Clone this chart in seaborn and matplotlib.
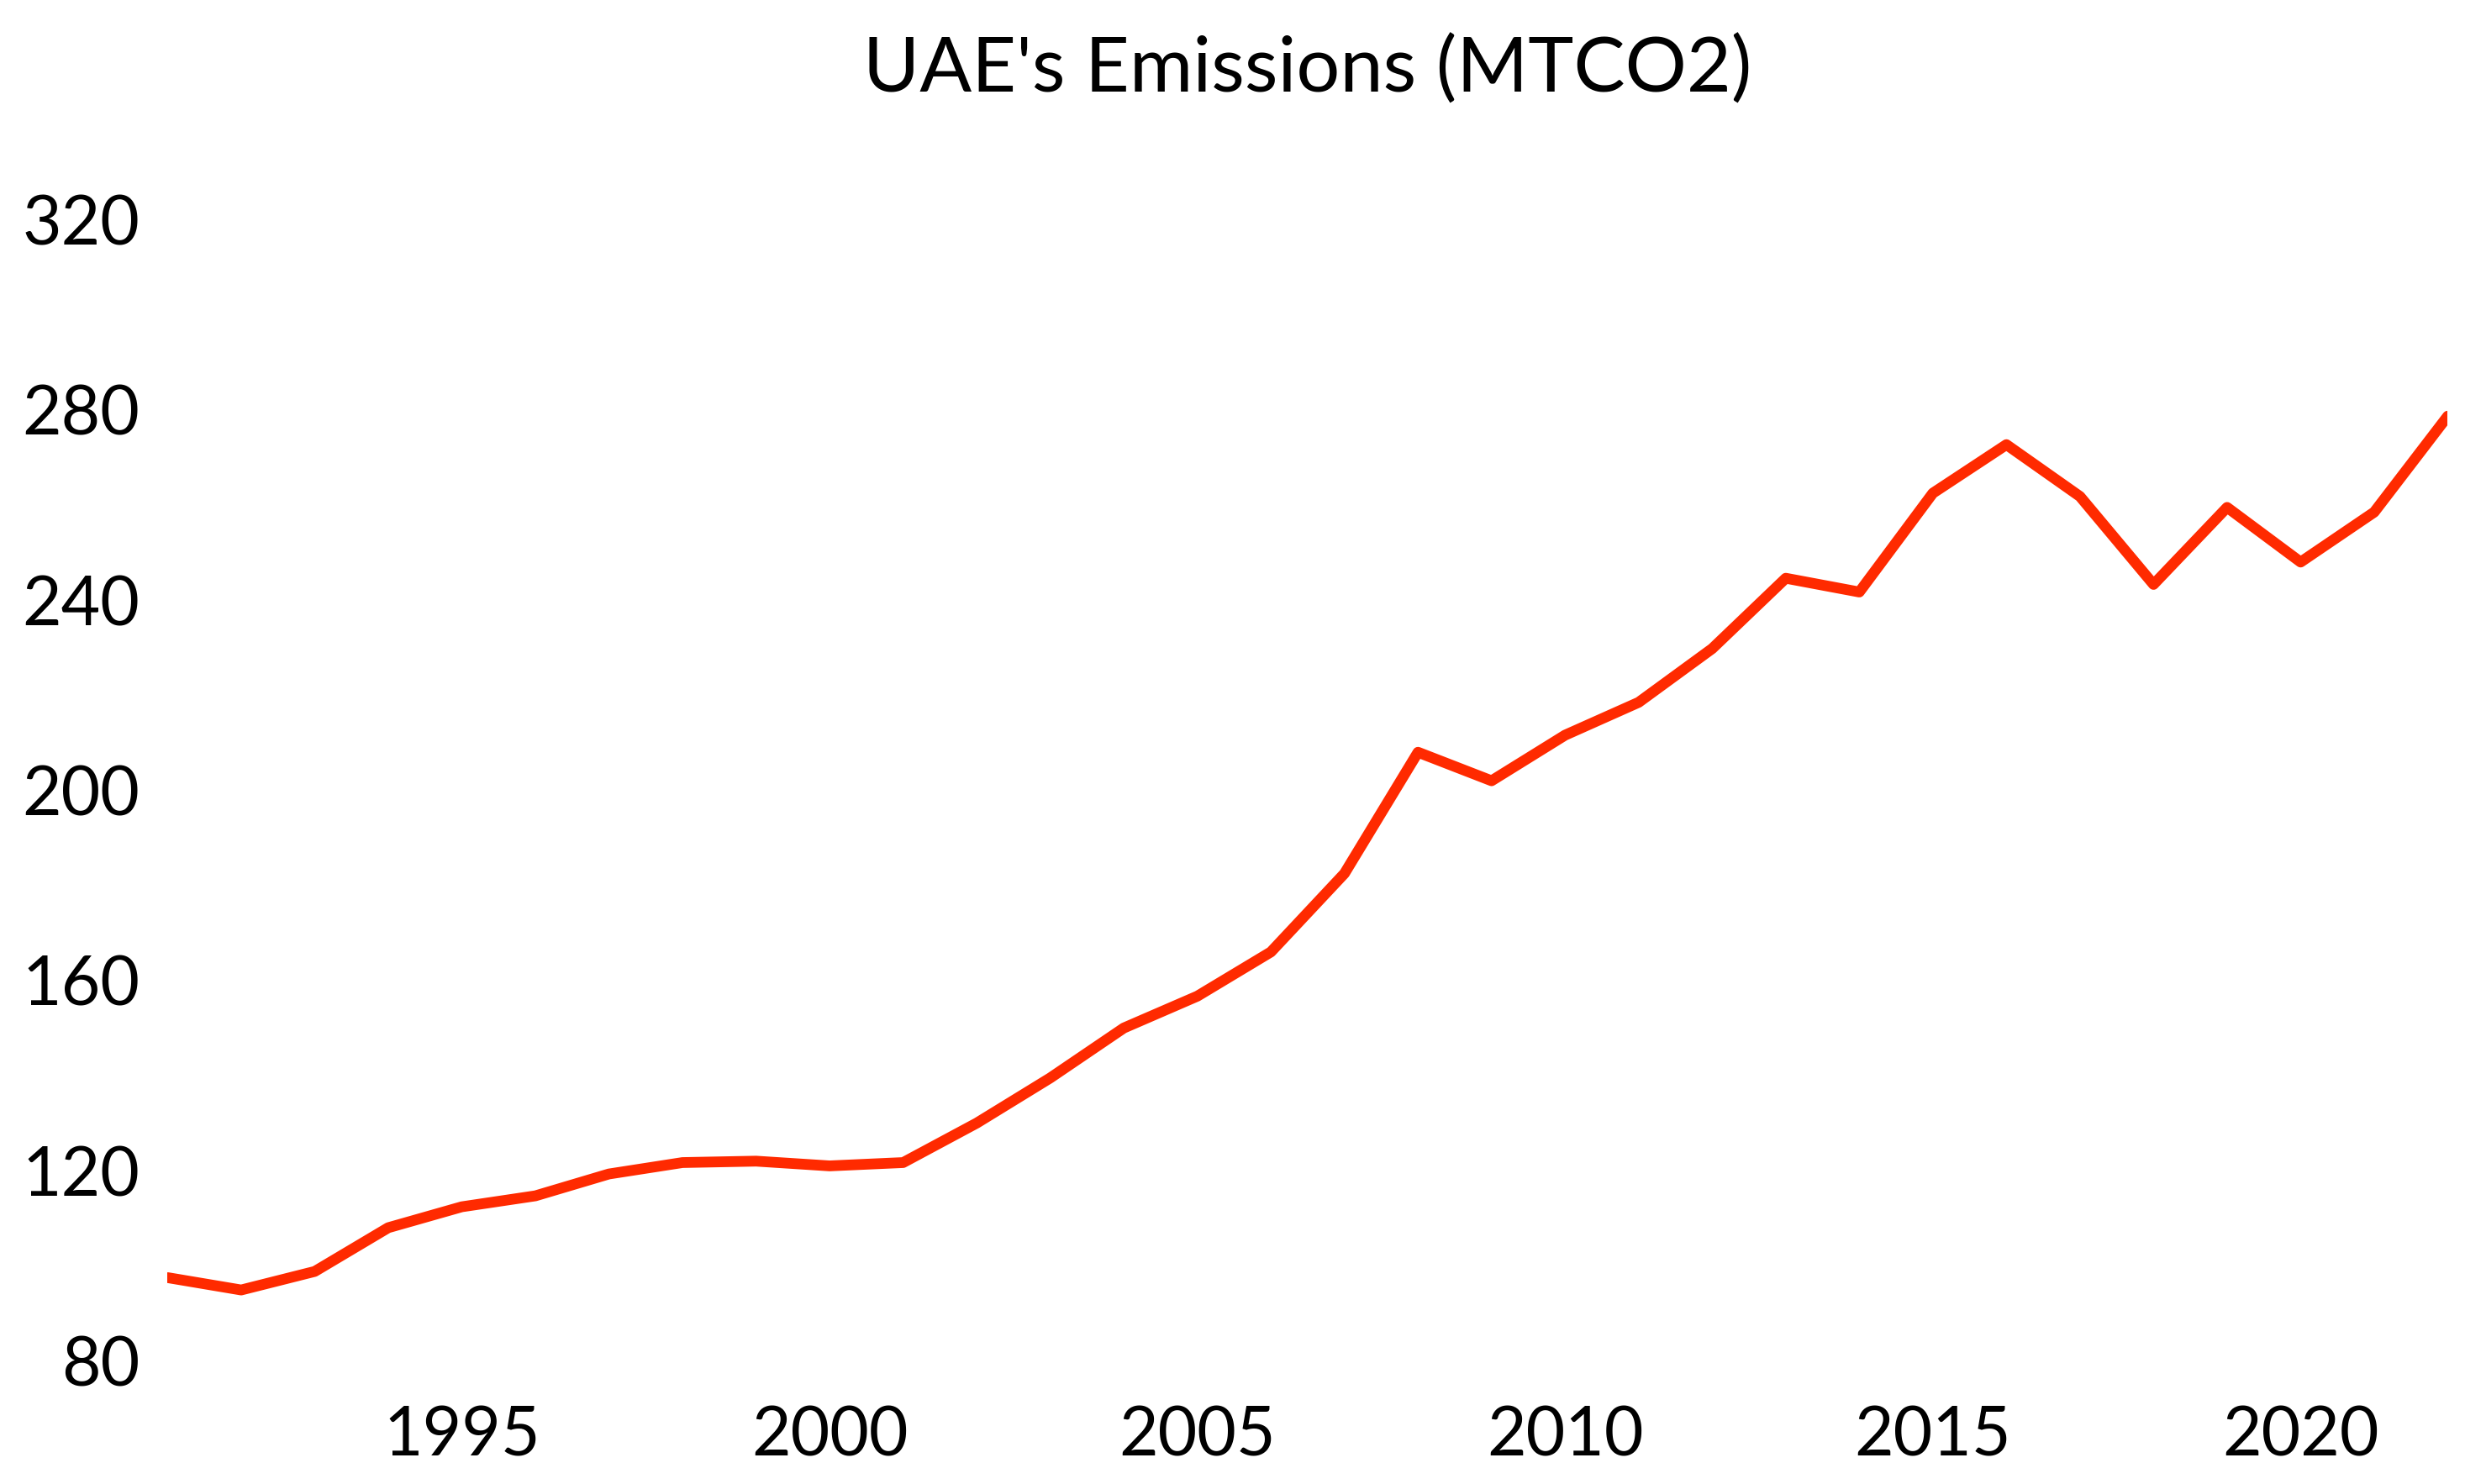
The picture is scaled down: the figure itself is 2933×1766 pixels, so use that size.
import numpy as np
import pandas as pd
import matplotlib
matplotlib.use("Agg")
import matplotlib.pyplot as plt
import seaborn as sns

# --- data (MtCO2 per year) ---
years = list(range(1991, 2023))
emissions = [97.5, 94.9, 98.8, 108.0, 112.4, 114.7, 119.3, 121.7, 122.0, 121.0,
             121.7, 130.0, 139.5, 150.0, 156.7, 166.0, 182.5, 208.0, 202.0, 211.6,
             218.5, 229.8, 244.6, 241.7, 262.5, 272.7, 261.8, 243.3, 259.5, 248.0,
             258.5, 278.7]
y_ticks = [80, 120, 160, 200, 240, 280, 320]
x_ticks = [1995, 2000, 2005, 2010, 2015, 2020]

df = pd.DataFrame({"year": years, "mtco2": emissions})

sns.set_theme(style="white")
plt.rcParams["font.family"] = ["Lato", "DejaVu Sans"]
plt.rcParams["text.color"] = "black"
plt.rcParams["xtick.color"] = "black"
plt.rcParams["ytick.color"] = "black"

fig = plt.figure(figsize=(2933 / 200, 1766 / 200), dpi=200)
ax = fig.add_axes([0.068, 0.083, 0.925, 0.833])

sns.lineplot(data=df, x="year", y="mtco2", ax=ax, color="#FF2A00", linewidth=4.6)

ax.set_xlim(1991, 2022)
ax.set_ylim(80, 340)
ax.set_yticks(y_ticks)
ax.set_xticks(x_ticks)
ax.tick_params(axis="y", labelsize=29, pad=12, length=0)
ax.tick_params(axis="x", labelsize=29, pad=19, length=0)
ax.set_xlabel("")
ax.set_ylabel("")
sns.despine(ax=ax, left=True, bottom=True)

ax.set_title("UAE's Emissions (MTCO2)", fontsize=33, color="black", pad=14)

fig.savefig("out.png", dpi=200)
